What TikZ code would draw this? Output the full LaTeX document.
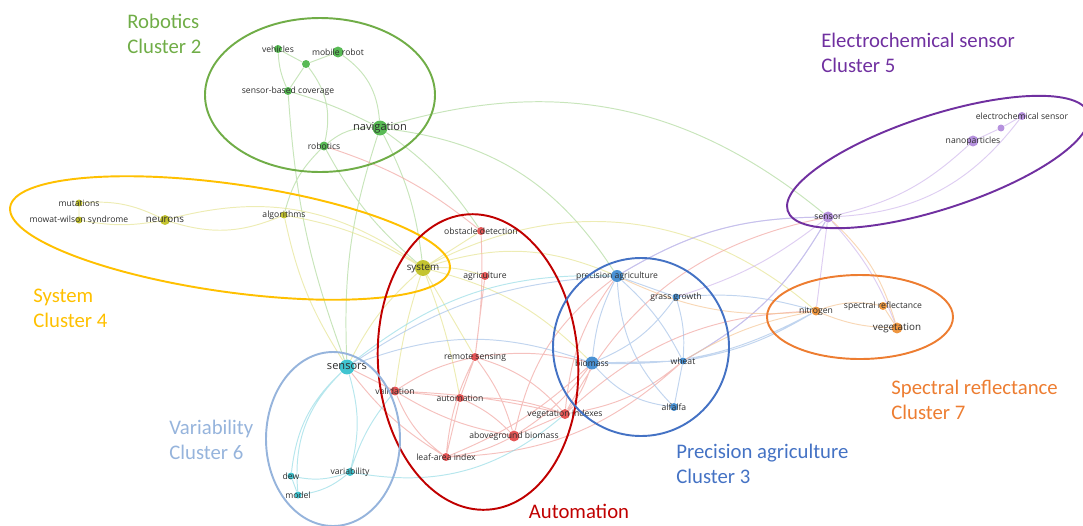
\documentclass[tikz,border=0pt]{standalone}
\usepackage{fontspec}
\setmainfont{Carlito}
\newfontfamily\vosfont{Open Sans}
\usetikzlibrary{backgrounds}
\definecolor{txt}{RGB}{45,45,45}
% cluster hulls and titles
\definecolor{cgreen}{RGB}{112,173,71}
\definecolor{cyellow}{RGB}{255,192,0}
\definecolor{cred}{RGB}{192,0,0}
\definecolor{cblue}{RGB}{68,114,196}
\definecolor{ccyan}{RGB}{150,180,220}
\definecolor{cpurple}{RGB}{112,48,160}
\definecolor{corange}{RGB}{237,125,49}
% keyword dots
\definecolor{kgreen}{RGB}{88,186,84}
\definecolor{kyellow}{RGB}{196,196,48}
\definecolor{kred}{RGB}{228,86,86}
\definecolor{kblue}{RGB}{74,146,212}
\definecolor{kcyan}{RGB}{64,196,208}
\definecolor{kpurple}{RGB}{182,146,222}
\definecolor{korange}{RGB}{238,150,64}
% links
\definecolor{egreen}{RGB}{170,215,150}
\definecolor{eyellow}{RGB}{228,226,140}
\definecolor{ered}{RGB}{240,160,155}
\definecolor{eblue}{RGB}{160,190,230}
\definecolor{ecyan}{RGB}{145,218,228}
\definecolor{epurple}{RGB}{205,180,235}
\definecolor{eorange}{RGB}{245,195,145}
\begin{document}
\begin{tikzpicture}[x=0.02cm, y=-0.02cm, line join=round, line cap=round,
  kw/.style 2 args={circle, inner sep=0pt, fill=#1, minimum size=#2*0.567pt},
  lbl/.style={font=\vosfont\fontsize{4.9}{5}\selectfont, text=txt, inner sep=0pt},
  lblm/.style={lbl, font=\vosfont\fontsize{5.6}{6}\selectfont},
  lblb/.style={lbl, font=\vosfont\fontsize{6.3}{7}\selectfont},
  lnk/.style={line width=0.55pt, draw=#1, opacity=0.65},
  hull/.style={line width=1.1pt, draw=#1},
  ttl/.style={anchor=west, align=left, text=#1, inner sep=0pt, font=\fontsize{11.8}{14.2}\selectfont}]
\useasboundingbox (0,0) rectangle (1083,525);
\clip (0,0) rectangle (1083,525);
% Cluster 2
\node[kw={kgreen}{8}, label={[lbl]center:vehicles}] (vehicles) at (278,49) {};
\node[kw={kgreen}{11}, label={[lbl]center:mobile robot}] (mobilerobot) at (338,52) {};
\node[kw={kgreen}{8}] (gdot) at (306,64) {};
\node[kw={kgreen}{8}, label={[lbl]center:sensor-based coverage}] (sbcoverage) at (288,91) {};
\node[kw={kgreen}{15}, label={[lblb]center:navigation}] (navigation) at (380,128) {};
\node[kw={kgreen}{9}, label={[lbl]center:robotics}] (robotics) at (324,146) {};
% Cluster 4
\node[kw={kyellow}{7}, label={[lbl]center:mutations}] (mutations) at (79,203) {};
\node[kw={kyellow}{7}, label={[lbl]center:mowat-wilson syndrome}] (mowat) at (79,220) {};
\node[kw={kyellow}{10}, label={[lblm]center:neurons}] (neurons) at (165,220) {};
\node[kw={kyellow}{7}, label={[lbl]center:algorithms}] (algorithms) at (284,215) {};
\node[kw={kyellow}{16}, label={[lblm]center:system}] (system) at (423,268) {};
% Cluster 1
\node[kw={kred}{8}, label={[lbl]center:obstacle detection}] (obstacle) at (481,231) {};
\node[kw={kred}{8}, label={[lbl]center:agriculture}] (agriculture) at (485,276) {};
\node[kw={kred}{8}, label={[lbl]center:remote sensing}] (remotesensing) at (475,357) {};
\node[kw={kred}{9}, label={[lbl]center:validation}] (validation) at (395,391) {};
\node[kw={kred}{8}, label={[lbl]center:automation}] (automation) at (460,398) {};
\node[kw={kred}{10}, label={[lbl]center:vegetation indexes}] (vegindex) at (565,414) {};
\node[kw={kred}{11}, label={[lbl]center:aboveground biomass}] (agbiomass) at (514,436) {};
\node[kw={kred}{8}, label={[lbl]center:leaf-area index}] (lai) at (446,457) {};
% Cluster 3
\node[kw={kblue}{12}, label={[lbl]center:precision agriculture}] (precagri) at (617,276) {};
\node[kw={kblue}{7}, label={[lbl]center:grass growth}] (grass) at (676,297) {};
\node[kw={kblue}{13}, label={[lbl]center:biomass}] (biomass) at (592,363) {};
\node[kw={kblue}{7}, label={[lbl]center:wheat}] (wheat) at (683,361) {};
\node[kw={kblue}{8}, label={[lbl]center:alfalfa}] (alfalfa) at (674,407) {};
% Cluster 6
\node[kw={kcyan}{15}, label={[lblb]center:sensors}] (sensors) at (347,367) {};
\node[kw={kcyan}{8}, label={[lbl]center:variability}] (variability) at (350,472) {};
\node[kw={kcyan}{7}, label={[lbl]center:dew}] (dew) at (291,476) {};
\node[kw={kcyan}{7}, label={[lbl]center:model}] (model) at (298,495) {};
% Cluster 5
\node[kw={kpurple}{8}, label={[lbl]center:electrochemical sensor}] (electro) at (1022,116) {};
\node[kw={kpurple}{7}] (pdot) at (1001,128) {};
\node[kw={kpurple}{11}, label={[lbl]center:nanoparticles}] (nano) at (973,141) {};
\node[kw={kpurple}{11}, label={[lbl]center:sensor}] (sensor) at (828,217) {};
% Cluster 7
\node[kw={korange}{9}, label={[lbl]center:nitrogen}] (nitrogen) at (816,311) {};
\node[kw={korange}{8}, label={[lbl]center:spectral reflectance}] (specrefl) at (883,306) {};
\node[kw={korange}{11}, label={[lblm]center:vegetation}] (vegetation) at (897,328) {};

\begin{scope}[on background layer]
\draw[lnk=egreen] (vehicles) -- (gdot) -- (mobilerobot) (vehicles) to[bend right=10] (sbcoverage)
  (gdot) -- (sbcoverage) (gdot) to[bend left=25] (robotics) (mobilerobot) to[bend left=25] (navigation)
  (sbcoverage) to[bend left=5] (navigation) (robotics) to[bend left=20] (navigation)
  (sbcoverage) to[bend right=8] (sensors) (navigation) to[bend left=10] (system)
  (navigation) to[bend left=10] (obstacle) (robotics) to[bend right=10] (system)
  (robotics) to[bend right=15] (algorithms) (navigation) to[bend right=10] (sensors)
  (navigation) to[bend left=28] (sensor) (navigation) to[bend left=25] (precagri);
\draw[lnk=eyellow] (mutations) -- (mowat) (mutations) to[bend left=15] (neurons)
  (mowat) to[bend right=10] (neurons) (neurons) to[bend right=20] (algorithms)
  (neurons) to[bend left=25] (system) (algorithms) to[bend left=10] (system)
  (algorithms) to[bend right=10] (sensors) (system) -- (obstacle) (system) to[bend left=10] (agriculture)
  (system) to[bend left=34] (nitrogen) (system) to[bend left=20] (precagri)
  (system) to[bend right=10] (sensors) (system) to[bend right=5] (validation)
  (system) to[bend left=5] (automation) (system) -- (remotesensing) (system) to[bend left=15] (biomass);
\draw[lnk=ered] (obstacle) to[bend left=5] (remotesensing) (agriculture) -- (remotesensing)
  (obstacle) to[bend right=10] (robotics) (remotesensing) -- (automation)
  (remotesensing) to[bend left=10] (agbiomass) (remotesensing) to[bend left=15] (vegindex)
  (remotesensing) to[bend right=10] (validation) (remotesensing) to[bend right=10] (lai)
  (remotesensing) to[bend left=10] (biomass) (validation) -- (automation)
  (validation) to[bend right=15] (lai) (validation) to[bend right=10] (agbiomass)
  (validation) to[bend left=5] (vegindex) (automation) to[bend left=10] (agbiomass)
  (automation) -- (lai) (automation) to[bend left=10] (vegindex) (lai) to[bend right=10] (agbiomass)
  (agbiomass) -- (vegindex) (agbiomass) to[bend right=10] (biomass) (agbiomass) to[bend left=20] (precagri)
  (vegindex) to[bend right=10] (biomass) (vegindex) to[bend left=15] (precagri)
  (vegindex) to[bend left=20] (nitrogen) (vegindex) to[bend left=25] (sensor)
  (vegindex) to[bend right=15] (wheat) (lai) to[bend left=10] (sensors)
  (lai) to[bend right=20] (wheat) (lai) to[bend right=10] (biomass) (validation) -- (sensors);
\draw[lnk=eblue] (precagri) -- (grass) (precagri) to[bend right=10] (biomass)
  (precagri) to[bend left=10] (wheat) (precagri) to[bend right=20] (alfalfa)
  (grass) to[bend left=10] (wheat) (grass) to[bend left=15] (biomass) (biomass) -- (wheat)
  (biomass) to[bend right=20] (alfalfa) (wheat) -- (alfalfa) (precagri) to[bend left=15] (sensor)
  (wheat) to[bend right=15] (sensor) (grass) to[bend left=10] (nitrogen)
  (wheat) to[bend right=10] (nitrogen) (biomass) to[bend right=15] (nitrogen)
  (precagri) to[bend right=15] (sensors) (biomass) to[bend right=20] (sensors);
\draw[lnk=ecyan] (sensors) to[bend right=20] (dew) (sensors) to[bend right=25] (model)
  (sensors) to[bend left=15] (variability) (dew) to[bend right=15] (variability)
  (model) to[bend right=15] (variability) (dew) -- (model) (sensors) to[bend left=20] (precagri)
  (variability) to[bend right=25] (vegindex) (variability) to[bend left=10] (validation);
\draw[lnk=epurple] (sensor) to[bend right=15] (nano) (sensor) to[bend right=25] (electro)
  (nano) -- (pdot) -- (electro) (sensor) to[bend right=15] (precagri) (sensor) to[bend left=10] (grass)
  (sensor) -- (nitrogen) (sensor) to[bend left=10] (vegetation) (sensor) to[bend left=15] (wheat);
\draw[lnk=eorange] (nitrogen) to[bend left=15] (specrefl) (specrefl) -- (vegetation)
  (nitrogen) to[bend right=10] (vegetation) (nitrogen) to[bend right=10] (wheat)
  (nitrogen) to[bend left=15] (precagri) (vegetation) to[bend right=15] (sensor);
\end{scope}

\draw[hull=cgreen] (320,95) ellipse [x radius=115, y radius=77];
\draw[hull=cyellow, rotate around={-8:(230,238)}] (230,238) ellipse [x radius=222, y radius=54];
\draw[hull=cred, rotate around={4:(478,362)}] (478,362) ellipse [x radius=100, y radius=148];
\draw[hull=cblue] (641,347) ellipse [x radius=88, y radius=89];
\draw[hull=ccyan] (333,439) ellipse [x radius=67, y radius=87];
\draw[hull=cpurple, rotate around={18:(938,162)}] (938,162) ellipse [x radius=158, y radius=47];
\draw[hull=corange] (860,317) ellipse [x radius=93, y radius=42];

\node[ttl=cgreen] (robtitle) at (127,33.5) {Robotics\\Cluster 2};
\node[ttl=cpurple] (elctitle) at (821,52.5) {Electrochemical sensor\\Cluster 5};
\node[ttl=cyellow] (systitle) at (33,308.5) {System\\Cluster 4};
\node[ttl=ccyan] (vartitle) at (169,439.5) {Variability\\Cluster 6};
\node[ttl=cblue] (pretitle) at (676,463.5) {Precision agriculture\\Cluster 3};
\node[ttl=corange] (spctitle) at (891,400) {Spectral reflectance\\Cluster 7};
\node[ttl=cred, anchor=center] (auttitle) at (579,511) {Automation};
\end{tikzpicture}
\end{document}
